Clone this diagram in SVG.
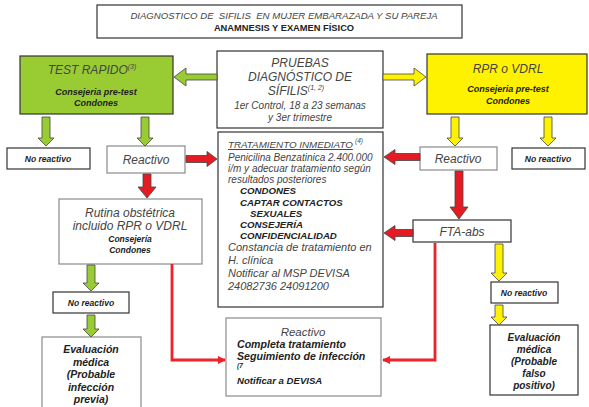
<svg xmlns="http://www.w3.org/2000/svg" width="589" height="407" viewBox="0 0 589 407">
<style>
text{font-family:"Liberation Sans",Arial,sans-serif;}
.box{fill:#fff;stroke:#333;stroke-width:1.2;}
.gbox{fill:#fff;stroke:#8a8a8a;stroke-width:1.2;}
.t{font-style:italic;fill:#444;}
.b{font-style:italic;font-weight:bold;fill:#222;}
.ga{fill:#99cc33;stroke:#444;stroke-width:0.8;}
.ya{fill:#fff200;stroke:#444;stroke-width:0.8;}
.ra{fill:#e41b23;stroke:#444;stroke-width:0.8;}
.rl{fill:none;stroke:#ee2229;stroke-width:2.8;}
</style>
<defs>
<marker id="rh" markerWidth="8" markerHeight="8" refX="7" refY="4" orient="auto" markerUnits="userSpaceOnUse">
<path d="M0,0 L8,4 L0,8 z" fill="#ee2229"/>
</marker>
</defs>
<rect width="589" height="407" fill="#fff"/>

<g id="title">
<rect x="97" y="5" width="365" height="33" class="box"/>
<text x="284" y="19" font-size="9.6" text-anchor="middle" class="t" style="white-space:pre">DIAGNOSTICO DE  SIFILIS  EN MUJER EMBARAZADA Y SU PAREJA</text>
<text x="284" y="31" font-size="9.3" text-anchor="middle" font-weight="bold" fill="#222">ANAMNESIS Y EXAMEN FÍSICO</text>
</g>

<g id="test-rapido">
<rect x="20" y="56" width="153" height="58" fill="#99cc33" stroke="#333" stroke-width="1.2"/>
<text x="92" y="74" font-size="12" text-anchor="middle" class="t" fill="#333">TEST RAPIDO<tspan font-size="7" dy="-5">(3)</tspan></text>
<text x="96" y="95" font-size="9" text-anchor="middle" class="b">Consejeria pre-test</text>
<text x="96" y="106" font-size="9" text-anchor="middle" class="b">Condones</text>
</g>

<g id="pruebas">
<rect x="217" y="51" width="166" height="77" class="box"/>
<text x="300" y="67" font-size="12" text-anchor="middle" class="t">PRUEBAS</text>
<text x="300" y="81" font-size="12" text-anchor="middle" class="t">DIAGNÓSTICO DE</text>
<text x="296" y="95" font-size="12" text-anchor="middle" class="t">SÍFILIS<tspan font-size="7" dy="-5">(1, 2)</tspan></text>
<text x="300" y="109" font-size="10" text-anchor="middle" class="t">1er Control, 18 a 23 semanas</text>
<text x="300" y="121" font-size="10" text-anchor="middle" class="t">y 3er trimestre</text>
</g>

<g id="rpr">
<rect x="427" y="54" width="160" height="60" fill="#fff200" stroke="#333" stroke-width="1.2"/>
<text x="508" y="73" font-size="12" text-anchor="middle" class="t" fill="#333">RPR o VDRL</text>
<text x="508" y="92" font-size="9" text-anchor="middle" class="b">Consejeria pre-test</text>
<text x="508" y="104" font-size="9" text-anchor="middle" class="b">Condones</text>
</g>

<g id="no-reactivo-left">
<rect x="7" y="148" width="83" height="21" class="box"/>
<text x="48" y="161.5" font-size="8.5" text-anchor="middle" class="b">No reactivo</text>
</g>

<g id="reactivo-left">
<rect x="107" y="146" width="78" height="27" class="gbox"/>
<text x="146" y="164" font-size="12" text-anchor="middle" class="t" fill="#555">Reactivo</text>
</g>

<g id="rutina">
<rect x="59" y="199" width="143" height="65" class="gbox"/>
<text x="130" y="217" font-size="12" text-anchor="middle" class="t" fill="#555">Rutina obstétrica</text>
<text x="130" y="230" font-size="12" text-anchor="middle" class="t" fill="#555">incluido RPR o VDRL</text>
<text x="130" y="242" font-size="8.5" text-anchor="middle" class="b">Consejería</text>
<text x="130" y="253" font-size="8.5" text-anchor="middle" class="b">Condones</text>
</g>

<g id="tratamiento">
<rect x="218" y="132" width="165" height="175" class="box"/>
<text x="228" y="148" font-size="9.8" class="t" text-decoration="underline">TRATAMIENTO INMEDIATO</text>
<text x="355" y="143" font-size="6.5" class="t">(4)</text>
<text x="228" y="161" font-size="10" class="t">Penicilina Benzatinica 2.400.000</text>
<text x="228" y="172" font-size="10" class="t">i/m y adecuar tratamiento según</text>
<text x="228" y="183" font-size="10" class="t">resultados posteriores</text>
<text x="240" y="194" font-size="9.7" class="b">CONDONES</text>
<text x="240" y="206" font-size="9.7" class="b">CAPTAR CONTACTOS</text>
<text x="250" y="217" font-size="9.7" class="b">SEXUALES</text>
<text x="240" y="228" font-size="9.7" class="b">CONSEJERÍA</text>
<text x="240" y="239" font-size="9.7" class="b">CONFIDENCIALIDAD</text>
<text x="228" y="251" font-size="11" class="t">Constancia de tratamiento en</text>
<text x="228" y="264" font-size="11" class="t">H. clínica</text>
<text x="228" y="277" font-size="11" class="t">Notificar al MSP DEVISA</text>
<text x="228" y="290" font-size="11" class="t">24082736 24091200</text>
</g>

<g id="reactivo-right">
<rect x="420" y="147" width="77" height="23" class="gbox"/>
<text x="458" y="163" font-size="12" text-anchor="middle" class="t" fill="#555">Reactivo</text>
</g>

<g id="no-reactivo-right">
<rect x="512" y="148" width="73" height="21" class="box"/>
<text x="548" y="161.5" font-size="8.5" text-anchor="middle" class="b">No reactivo</text>
</g>

<g id="fta">
<rect x="413" y="220" width="98" height="22" class="box"/>
<text x="462" y="235.5" font-size="12" text-anchor="middle" class="t" fill="#555">FTA-abs</text>
</g>

<g id="no-reactivo-left2">
<rect x="53" y="292" width="76" height="21" class="box"/>
<text x="91" y="305.5" font-size="8.5" text-anchor="middle" class="b">No reactivo</text>
</g>

<g id="evaluacion-left">
<rect x="42" y="337" width="99" height="75" class="gbox"/>
<text x="91" y="353" font-size="10.5" text-anchor="middle" class="b" fill="#333">Evaluación</text>
<text x="91" y="365.5" font-size="10.5" text-anchor="middle" class="b" fill="#333">médica</text>
<text x="91" y="378" font-size="10.5" text-anchor="middle" class="b" fill="#333">(Probable</text>
<text x="91" y="390.5" font-size="10.5" text-anchor="middle" class="b" fill="#333">infección</text>
<text x="91" y="403" font-size="10.5" text-anchor="middle" class="b" fill="#333">previa)</text>
</g>

<g id="completa">
<rect x="226" y="318" width="155" height="78" class="gbox"/>
<text x="303" y="336" font-size="11.5" text-anchor="middle" class="t" fill="#555">Reactivo</text>
<text x="237" y="348" font-size="10.6" class="b">Completa tratamiento</text>
<text x="237" y="360" font-size="10.6" class="b">Seguimiento de infección</text>
<text x="237" y="368" font-size="6.5" class="b">(7</text>
<text x="237" y="384" font-size="9.6" class="b">Notificar a DEVISA</text>
</g>

<g id="no-reactivo-right2">
<rect x="491" y="282" width="67" height="21" class="box"/>
<text x="524" y="295.5" font-size="8.5" text-anchor="middle" class="b">No reactivo</text>
</g>

<g id="evaluacion-right">
<rect x="490" y="325" width="88" height="70" class="box"/>
<text x="534" y="341" font-size="10" text-anchor="middle" class="b" fill="#333">Evaluación</text>
<text x="534" y="353" font-size="10" text-anchor="middle" class="b" fill="#333">médica</text>
<text x="534" y="365" font-size="10" text-anchor="middle" class="b" fill="#333">(Probable</text>
<text x="534" y="377" font-size="10" text-anchor="middle" class="b" fill="#333">falso</text>
<text x="534" y="389" font-size="10" text-anchor="middle" class="b" fill="#333">positivo)</text>
</g>

<g id="connectors">
<polygon class="ga" points="217,74 186,74 186,68 174,77 186,86 186,80 217,80"/>
<polygon class="ga" points="42,117 50,117 50,138 54,138 46,146 38,138 42,138"/>
<polygon class="ga" points="141,117 149,117 149,138 153,138 145,146 137,138 141,138"/>
<polygon class="ga" points="87,265 95,265 95,283 99,283 91,291 83,283 87,283"/>
<polygon class="ga" points="87,315 95,315 95,329 99,329 91,337 83,329 87,329"/>
<polygon class="ya" points="383,74 414,74 414,68 426,77 414,86 414,80 383,80"/>
<polygon class="ya" points="451,117 459,117 459,138 463,138 455,146 447,138 451,138"/>
<polygon class="ya" points="544,117 552,117 552,138 556,138 548,146 540,138 544,138"/>
<polygon class="ya" points="495,244 503,244 503,273 507,273 499,281 491,273 495,273"/>
<polygon class="ya" points="495,305 503,305 503,317 507,317 499,325 491,317 495,317"/>
<polygon class="ra" points="186,155.5 207,155.5 207,151.5 217,159 207,166.5 207,162.5 186,162.5"/>
<polygon class="ra" points="420,153.5 395,153.5 395,149.5 384,157 395,164.5 395,160.5 420,160.5"/>
<polygon class="ra" points="413,229.5 395,229.5 395,225.5 384,233 395,240.5 395,236.5 413,236.5"/>
<polygon class="ra" points="143,174 151,174 151,187 156,187 147,198 138,187 143,187"/>
<polygon class="ra" points="455,171 463,171 463,207 468,207 459,219 450,207 455,207"/>
<polyline class="rl" points="172,264 172,360 225,360" marker-end="url(#rh)"/>
<polyline class="rl" points="435,243 435,360 383,360" marker-end="url(#rh)"/>
</g>
</svg>
